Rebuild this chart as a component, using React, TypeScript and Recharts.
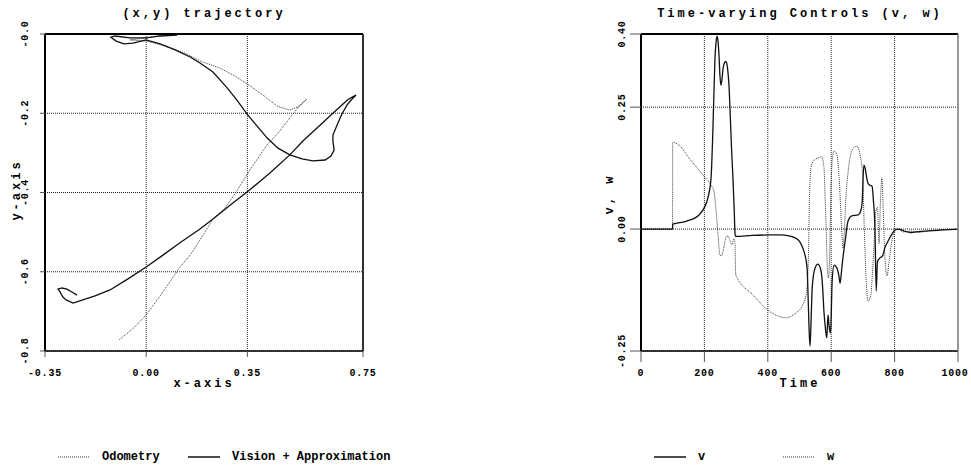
import { CartesianGrid, Line, LineChart, XAxis, YAxis } from "recharts";

const FONT = "'Liberation Mono', 'DejaVu Sans Mono', monospace";

// (x,y) trajectory
const odometryX = [
  0.11, 0.048, 0.0, -0.056, 0.0, 0.065, 0.134, 0.186, 0.255, 0.307, 0.359, 0.404, 0.453,
  0.497, 0.532, 0.556, 0.532, 0.497, 0.456, 0.418, 0.359, 0.311, 0.273, 0.231, 0.186,
  0.152, 0.117, 0.058, 0.0, -0.039, -0.073, -0.094,
];
const odometryY = [
  0.0, -0.005, -0.01, -0.015, -0.018, -0.03, -0.048, -0.068, -0.086, -0.106, -0.131, -0.154,
  -0.182, -0.192, -0.182, -0.164, -0.179, -0.212, -0.25, -0.28, -0.343, -0.399, -0.439,
  -0.467, -0.52, -0.558, -0.588, -0.651, -0.709, -0.739, -0.76, -0.772,
];
const visionX = [
  0.107, 0.048, 0.0, -0.056, -0.108, -0.122, -0.104, -0.077, -0.046, 0.0, 0.048, 0.1, 0.152,
  0.186, 0.231, 0.28, 0.314, 0.349, 0.383, 0.418, 0.456, 0.497, 0.539, 0.577, 0.619, 0.639,
  0.65, 0.646, 0.646, 0.66, 0.677, 0.695, 0.712, 0.726, 0.708, 0.695, 0.643, 0.591, 0.542,
  0.497, 0.428, 0.352, 0.29, 0.231, 0.186, 0.117, 0.058, 0.0, -0.063, -0.125, -0.177,
  -0.219, -0.253, -0.277, -0.288, -0.298, -0.305, -0.291, -0.274, -0.257, -0.239,
];
const visionY = [
  -0.003, -0.005, -0.01, -0.01, -0.005, -0.008, -0.018, -0.025, -0.023, -0.015, -0.025,
  -0.04, -0.058, -0.073, -0.096, -0.136, -0.167, -0.202, -0.232, -0.262, -0.288, -0.305,
  -0.315, -0.32, -0.318, -0.308, -0.293, -0.27, -0.255, -0.23, -0.202, -0.179, -0.164,
  -0.154, -0.161, -0.167, -0.202, -0.237, -0.27, -0.305, -0.351, -0.397, -0.432, -0.467,
  -0.492, -0.527, -0.558, -0.588, -0.618, -0.646, -0.661, -0.671, -0.679, -0.671, -0.664,
  -0.651, -0.644, -0.641, -0.644, -0.651, -0.659,
];

// Time-varying controls
const vTime = [
  0, 99.5, 100, 142, 183, 199, 211, 221, 227, 233, 237, 240, 243, 246, 249, 252, 255, 259,
  264, 268, 271, 274, 278, 281, 286, 290, 294, 297, 300, 350, 404, 440, 467, 486, 500, 508,
  516, 524, 527, 530, 533, 536, 539, 544, 549, 558, 568, 573, 577, 582, 586, 590, 593, 597,
  599, 603, 609, 618, 624, 628, 632, 637, 645, 653, 665, 685, 692, 697, 703, 707, 712, 716,
  722, 729, 733, 738, 742, 746, 754, 762, 769, 779, 790, 801, 812, 830, 850, 880, 920, 1000,
];
const vValues = [
  0, 0, 0.01, 0.016, 0.029, 0.043, 0.064, 0.105, 0.207, 0.344, 0.385, 0.395, 0.385, 0.357,
  0.315, 0.295, 0.305, 0.33, 0.342, 0.344, 0.338, 0.324, 0.29, 0.242, 0.16, 0.105, 0.04,
  -0.012, -0.015, -0.013, -0.012, -0.012, -0.014, -0.018, -0.025, -0.035, -0.05, -0.08,
  -0.135, -0.2, -0.24, -0.2, -0.135, -0.095, -0.08, -0.072, -0.086, -0.12, -0.168, -0.205,
  -0.223, -0.176, -0.197, -0.213, -0.2, -0.107, -0.074, -0.08, -0.095, -0.111, -0.09,
  -0.059, -0.02, 0.016, 0.027, 0.029, 0.035, 0.049, 0.131, 0.125, 0.105, 0.094, 0.09, 0.088,
  0.06, 0.002, -0.127, -0.066, -0.059, -0.055, -0.039, -0.025, -0.012, -0.002, 0.0, -0.004,
  -0.007, -0.005, -0.003, 0,
];
const wTime = [
  0, 99.5, 100, 120, 151, 195, 221, 230, 237, 243, 249, 254, 259, 265, 270, 274, 279, 284,
  288, 292, 296, 299, 353, 404, 440, 457, 475, 489, 508, 522, 528, 531, 536, 543, 558, 570,
  577, 581, 584, 588, 591, 595, 599, 603, 609, 618, 625, 630, 633, 637, 641, 646, 653, 662,
  672, 681, 691, 700, 703, 707, 710, 716, 725, 731, 735, 741, 746, 751, 755, 760, 764, 769,
  776, 782, 790, 800, 810, 830, 850, 880, 920, 1000,
];
const wValues = [
  0, 0, 0.178, 0.172, 0.146, 0.111, 0.09, 0.078, 0.037, -0.012, -0.053, -0.055, -0.045,
  -0.025, -0.015, -0.014, -0.02, -0.03, -0.032, -0.02, -0.025, -0.094, -0.135, -0.168, -0.18,
  -0.182, -0.178, -0.172, -0.158, -0.13, -0.06, 0.05, 0.125, 0.139, 0.146, 0.148, 0.128,
  0.06, 0.002, -0.08, -0.1, -0.06, 0.07, 0.14, 0.16, 0.152, 0.105, 0.04, 0.0, -0.039, -0.01,
  0.06, 0.115, 0.155, 0.168, 0.17, 0.152, 0.105, 0.03, -0.05, -0.1, -0.148, -0.135, -0.08,
  -0.033, 0.037, 0.045, -0.03, 0.05, 0.105, 0.04, -0.05, -0.096, -0.07, -0.03, -0.005, 0.0,
  -0.006, -0.004, -0.006, -0.003, 0,
];

const trajXTicks = [-0.35, 0, 0.35, 0.7, 0.75];
const trajYTicks = [0, -0.2, -0.4, -0.6, -0.8];
const timeTicks = [0, 200, 400, 600, 800, 1000];
const ctrlTicks = [-0.25, 0, 0.25, 0.4];

const zip = (xs: number[], ys: number[]) => xs.map((x, i) => ({ x, y: ys[i] }));

const odometryData = zip(odometryX, odometryY);
const visionData = zip(visionX, visionY);
const vData = zip(vTime, vValues);
const wData = zip(wTime, wValues);

const DOTTED = "#3a3a3a";

const tickStyle = { fontFamily: FONT, fontWeight: 700, fontSize: 10, letterSpacing: 0.8 };
const bigText = { fontFamily: FONT, fontWeight: 700, fontSize: 12, letterSpacing: 3 };
const legendText = { fontFamily: FONT, fontWeight: 700, fontSize: 12 };

const fmtTrajX = (v: number) => (v === 0.7 ? "" : v.toFixed(2));
const fmtTrajY = (v: number) => (v === 0 ? "-0.0" : v.toFixed(1));
const fmtTime = (v: number) => String(v);
const fmtCtrl = (v: number) => v.toFixed(2);

function BottomTick(props: any) {
  const { x, y, payload, fmt, drop } = props;
  const label = fmt(payload.value);
  if (!label) return <g />;
  return (
    <text x={x} y={y + drop} textAnchor="middle" fill="#000" style={tickStyle}>
      {label}
    </text>
  );
}

function LeftTick(props: any) {
  const { x, y, payload, fmt, shift } = props;
  const bx = x - shift;
  return (
    <text
      x={bx}
      y={y}
      textAnchor="middle"
      fill="#000"
      transform={`rotate(-90 ${bx} ${y})`}
      style={tickStyle}
    >
      {fmt(payload.value)}
    </text>
  );
}

const gridProps = { stroke: "#222", strokeDasharray: "1 1" };
const tickLine = { stroke: "#555" };

function TrajectoryChart() {
  return (
    <LineChart width={400} height={400} margin={{ top: 0, right: 0, bottom: 0, left: 0 }}>
      <CartesianGrid {...gridProps} />
      <XAxis
        dataKey="x"
        type="number"
        domain={[-0.35, 0.75]}
        ticks={trajXTicks}
        allowDataOverflow
        height={49}
        tickSize={6}
        axisLine={{ stroke: "#000", strokeWidth: 1.5 }}
        tickLine={tickLine}
        tick={<BottomTick fmt={fmtTrajX} drop={17} />}
      />
      <XAxis
        xAxisId="top"
        orientation="top"
        type="number"
        domain={[-0.35, 0.75]}
        ticks={trajXTicks}
        allowDataOverflow
        height={34}
        tickSize={11}
        axisLine={{ stroke: "#000", strokeWidth: 2 }}
        tickLine={tickLine}
        tick={false}
      />
      <YAxis
        type="number"
        domain={[-0.8, 0]}
        ticks={trajYTicks}
        allowDataOverflow
        width={45}
        tickSize={5}
        axisLine={{ stroke: "#000", strokeWidth: 2 }}
        tickLine={tickLine}
        tick={<LeftTick fmt={fmtTrajY} shift={10} />}
      />
      <YAxis
        yAxisId="right"
        orientation="right"
        type="number"
        domain={[-0.8, 0]}
        ticks={trajYTicks}
        allowDataOverflow
        width={37}
        tickSize={10}
        axisLine={{ stroke: "#000", strokeWidth: 1.5 }}
        tickLine={tickLine}
        tick={false}
      />
      <Line
        data={odometryData}
        dataKey="y"
        name="Odometry"
        type="linear"
        stroke={DOTTED}
        strokeWidth={1}
        strokeDasharray="1 1"
        dot={false}
        isAnimationActive={false}
      />
      <Line
        data={visionData}
        dataKey="y"
        name="Vision + Approximation"
        type="linear"
        stroke="#111"
        strokeWidth={1.3}
        dot={false}
        isAnimationActive={false}
      />
    </LineChart>
  );
}

function ControlsChart() {
  return (
    <LineChart width={375} height={400} margin={{ top: 0, right: 0, bottom: 0, left: 0 }}>
      <CartesianGrid {...gridProps} />
      <XAxis
        dataKey="x"
        type="number"
        domain={[0, 1000]}
        ticks={timeTicks}
        allowDataOverflow
        height={49}
        tickSize={11}
        axisLine={{ stroke: "#000", strokeWidth: 1.5 }}
        tickLine={tickLine}
        tick={<BottomTick fmt={fmtTime} drop={12} />}
      />
      <XAxis
        xAxisId="top"
        orientation="top"
        type="number"
        domain={[0, 1000]}
        ticks={timeTicks}
        allowDataOverflow
        height={34}
        tickSize={11}
        axisLine={{ stroke: "#000", strokeWidth: 2 }}
        tickLine={tickLine}
        tick={false}
      />
      <YAxis
        type="number"
        domain={[-0.25, 0.4]}
        ticks={ctrlTicks}
        allowDataOverflow
        width={45}
        tickSize={11}
        axisLine={{ stroke: "#000", strokeWidth: 2 }}
        tickLine={tickLine}
        tick={<LeftTick fmt={fmtCtrl} shift={3} />}
      />
      <YAxis
        yAxisId="right"
        orientation="right"
        type="number"
        domain={[-0.25, 0.4]}
        ticks={ctrlTicks}
        allowDataOverflow
        width={13}
        tickSize={11}
        axisLine={{ stroke: "#888", strokeWidth: 1.5 }}
        tickLine={tickLine}
        tick={false}
      />
      <Line
        data={wData}
        dataKey="y"
        name="w"
        type="monotone"
        stroke={DOTTED}
        strokeWidth={1}
        strokeDasharray="1 1"
        dot={false}
        isAnimationActive={false}
      />
      <Line
        data={vData}
        dataKey="y"
        name="v"
        type="monotone"
        stroke="#111"
        strokeWidth={1.3}
        dot={false}
        isAnimationActive={false}
      />
    </LineChart>
  );
}

function LegendItem({ x, label, dotted }: { x: number; label: string; dotted?: boolean }) {
  return (
    <g>
      <line
        x1={x}
        x2={x + 32}
        y1={457}
        y2={457}
        stroke={dotted ? DOTTED : "#111"}
        strokeWidth={dotted ? 1 : 1.5}
        strokeDasharray={dotted ? "1 1" : undefined}
      />
      <text x={x + 44} y={460} fill="#000" style={legendText}>
        {label}
      </text>
    </g>
  );
}

export default function App() {
  return (
    <div
      style={{
        position: "absolute",
        left: 0,
        top: 0,
        width: 971,
        height: 466,
        background: "#fff",
        overflow: "hidden",
      }}
    >
      <div style={{ position: "absolute", left: 0, top: 0 }}>
        <TrajectoryChart />
      </div>
      <div style={{ position: "absolute", left: 596, top: 0 }}>
        <ControlsChart />
      </div>
      <svg
        width={971}
        height={466}
        style={{ position: "absolute", left: 0, top: 0, pointerEvents: "none" }}
      >
        <text x={204} y={17} textAnchor="middle" style={bigText}>
          (x,y) trajectory
        </text>
        <text x={800} y={17} textAnchor="middle" style={bigText}>
          Time-varying Controls (v, w)
        </text>
        <text x={204} y={387} textAnchor="middle" style={bigText}>
          x-axis
        </text>
        <text x={800} y={387} textAnchor="middle" style={bigText}>
          Time
        </text>
        <text x={20} y={190} textAnchor="middle" transform="rotate(-90 20 190)" style={bigText}>
          y-axis
        </text>
        <text x={613} y={194} textAnchor="middle" transform="rotate(-90 613 194)" style={bigText}>
          v, w
        </text>
        <LegendItem x={58} label="Odometry" dotted />
        <LegendItem x={188} label="Vision + Approximation" />
        <LegendItem x={654} label="v" />
        <LegendItem x={783} label="w" dotted />
      </svg>
    </div>
  );
}
